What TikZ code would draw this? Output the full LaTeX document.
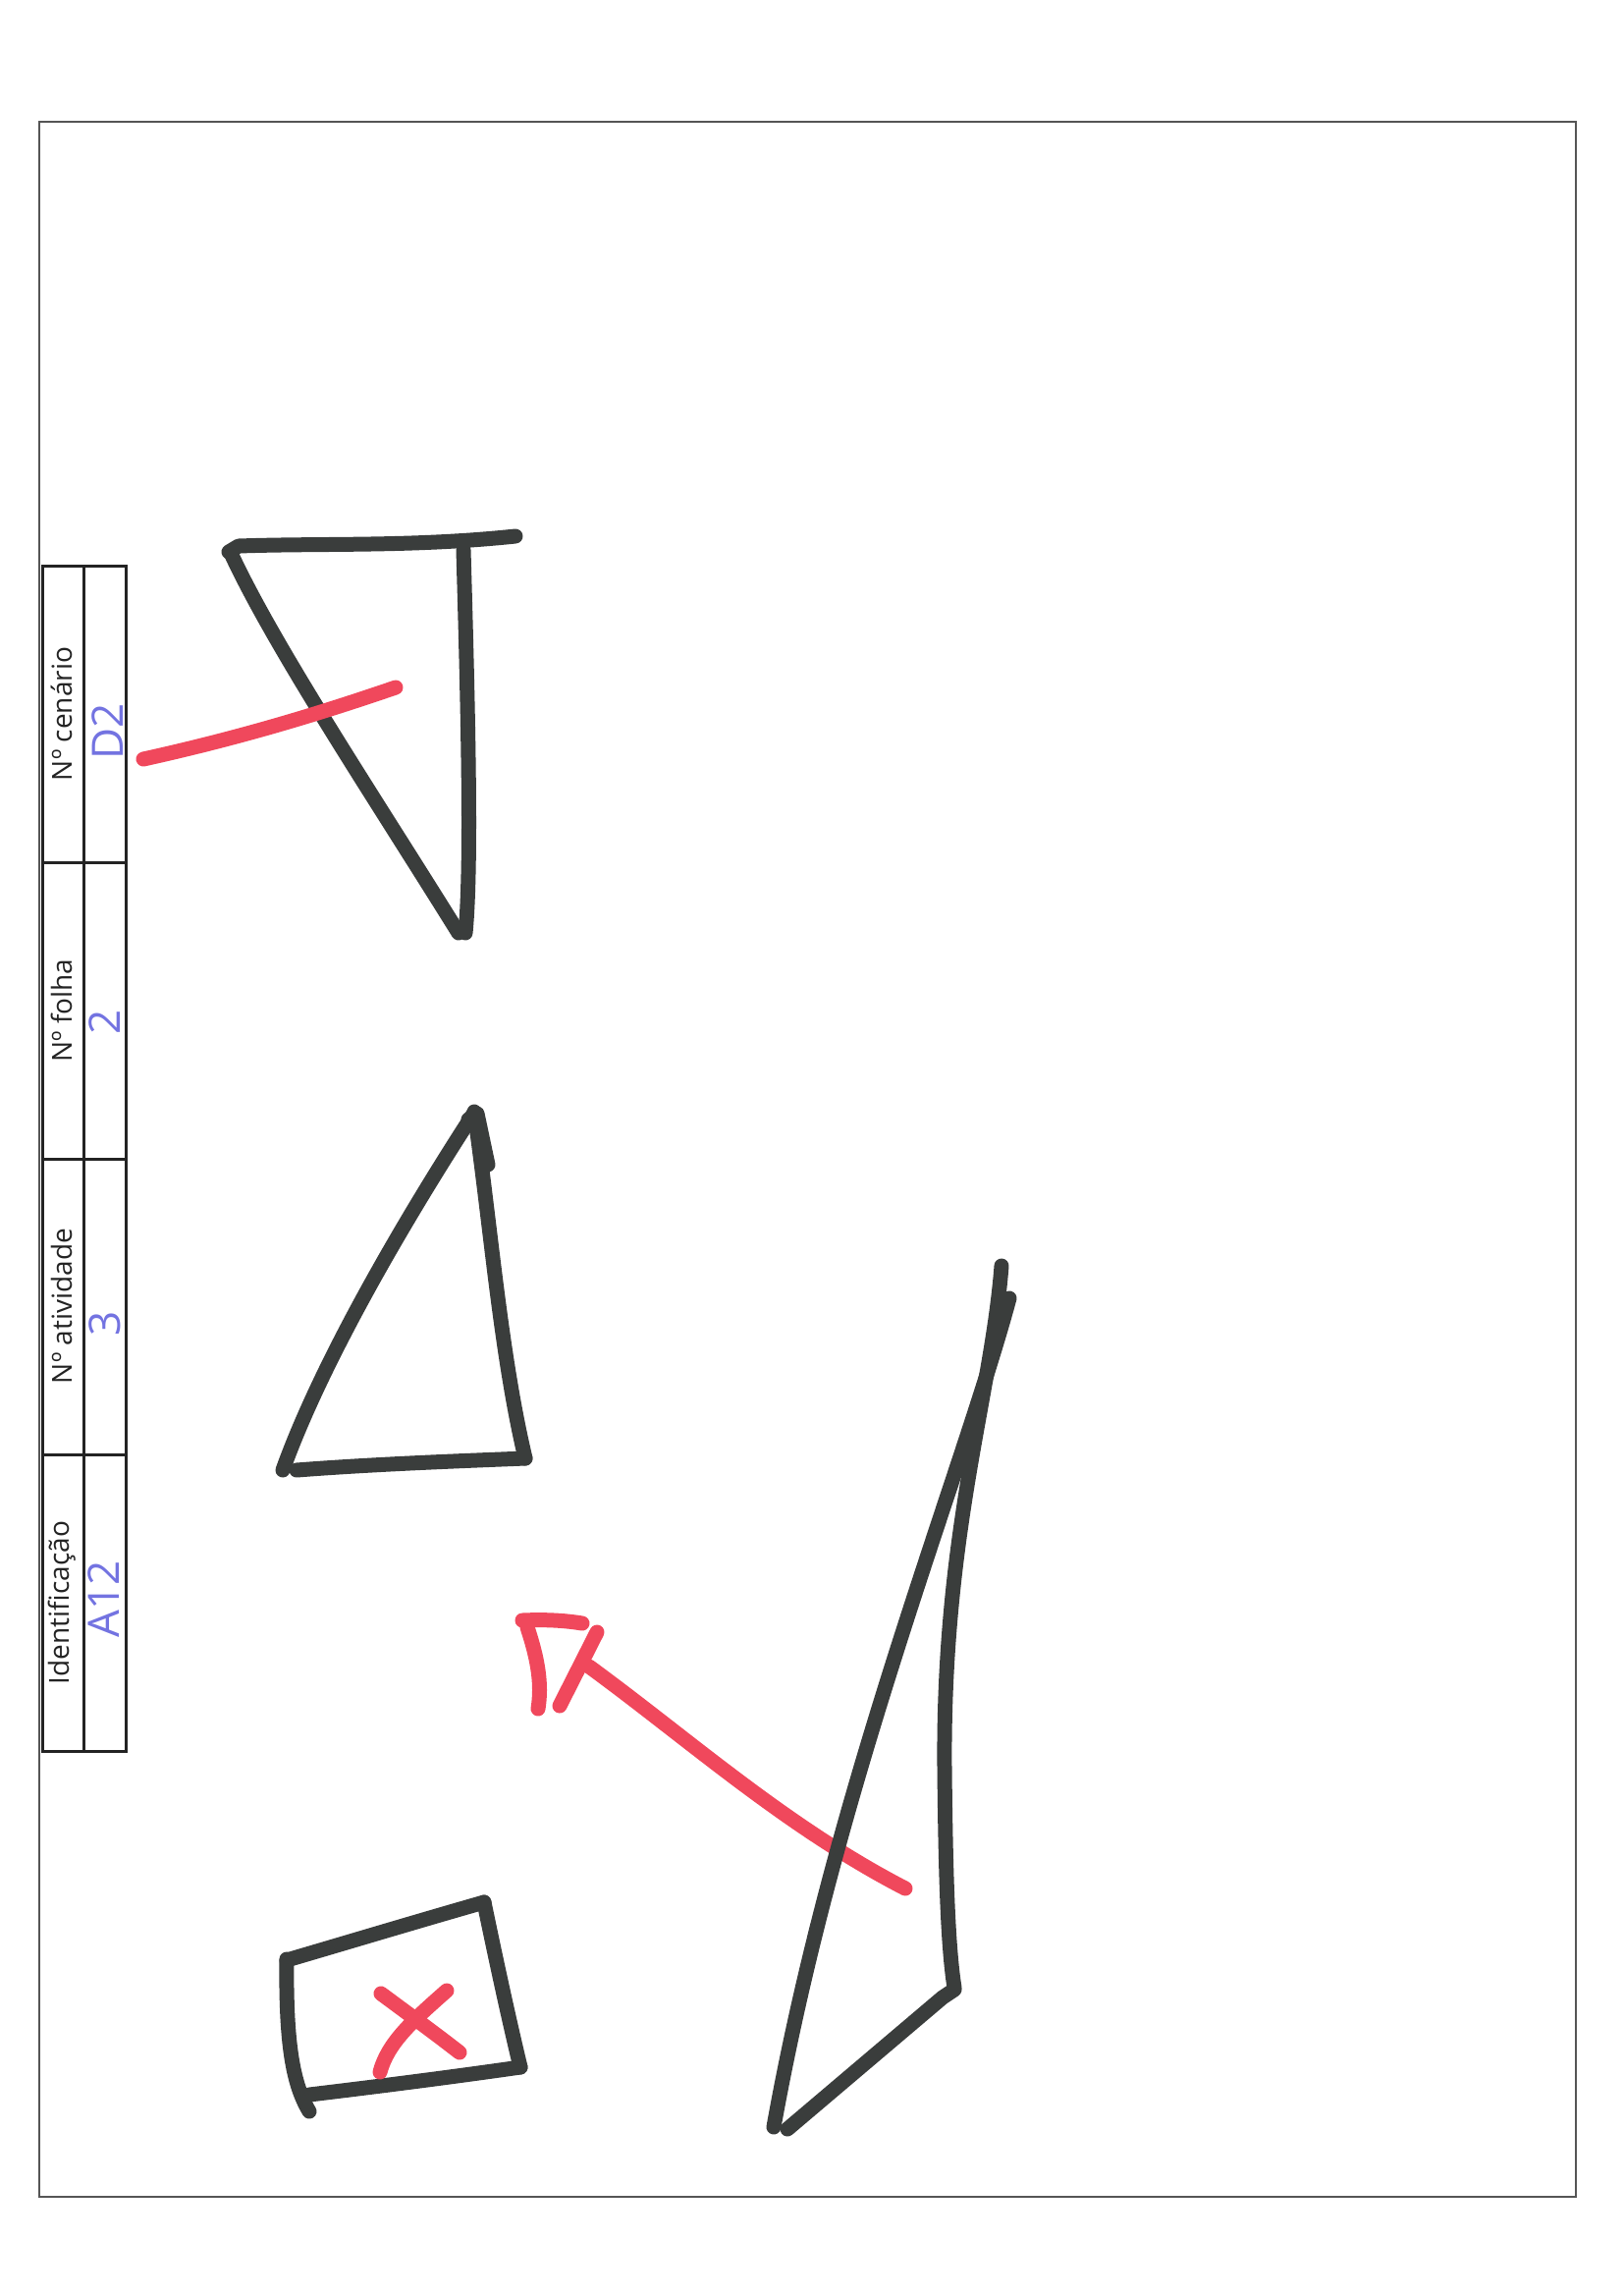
\documentclass[tikz,border=0pt]{standalone}
\usepackage{fontspec}
\setmainfont{Open Sans}
\definecolor{inkblack}{RGB}{58,61,60}
\definecolor{inkred}{RGB}{240,72,92}
\definecolor{framegray}{RGB}{85,85,85}
\definecolor{labelgray}{RGB}{35,35,35}
\definecolor{handblue}{RGB}{115,115,225}
\begin{document}
\begin{tikzpicture}[x=1pt,y=-1pt,
  marker/.style={line width=15pt, line cap=round, line join=round, draw=inkblack},
  redmarker/.style={line width=15pt, line cap=round, line join=round, draw=inkred},
  framestyle/.style={draw=framegray, line width=2.5pt},
  tablestyle/.style={draw=labelgray, line width=3pt},
  label/.style={font=\fontsize{28}{32}\selectfont, text=labelgray, rotate=90, inner sep=0pt},
  hand/.style={font=\fontsize{44}{50}\selectfont, text=handblue, rotate=90, inner sep=0pt}]
\useasboundingbox (0,0) rectangle (1654,2338);
\fill[white] (0,0) rectangle (1654,2338);
% page frame
\draw[framestyle] (40,124) rectangle (1605,2237);
% table
\draw[tablestyle] (43,576) rectangle (128,1783);
\draw[tablestyle] (85,576) -- (85,1783);
\foreach \yy in {878,1180,1481} \draw[tablestyle] (43,\yy) -- (128,\yy);
\node[label] (lid) at (63,1632) {Identificação};
\node[label] (lat) at (63,1330) {Nº atividade};
\node[label] (lfo) at (63,1029) {Nº folha};
\node[label] (lce) at (63,727) {Nº cenário};
\node[hand] (vid) at (106,1628) {A12};
\node[hand] (vat) at (107,1348) {3};
\node[hand] (vfo) at (107,1041) {2};
\node[hand] (vce) at (110,745) {D2};
% triangle 1 (top)
\draw[marker] (233,562) -- (243,556) .. controls (330,553) and (420,557) .. (525,546);
\draw[marker] (235,563) .. controls (280,660) and (380,810) .. (467,950);
\draw[marker] (472,560) .. controls (476,700) and (481,880) .. (474,950);
\draw[redmarker] (146,773) .. controls (250,750) and (330,725) .. (403,700);
% triangle 2 (middle)
\draw[marker] (483,1133) .. controls (420,1230) and (330,1380) .. (288,1497);
\draw[marker] (483,1132) .. controls (500,1250) and (510,1380) .. (535,1485);
\draw[marker] (477,1140) -- (486,1134) -- (497,1186);
\draw[marker] (302,1497) .. controls (380,1491) and (460,1488) .. (535,1485);
% box with X
\draw[marker] (292,1995) .. controls (291,2080) and (298,2122) .. (315,2150);
\draw[marker] (292,1996) .. controls (360,1976) and (430,1955) .. (493,1937);
\draw[marker] (493,1937) .. controls (505,1995) and (518,2055) .. (530,2105);
\draw[marker] (530,2105) .. controls (460,2115) and (390,2124) .. (315,2133);
\draw[redmarker] (388,2030) .. controls (415,2050) and (445,2072) .. (468,2090);
\draw[redmarker] (455,2027) .. controls (420,2058) and (395,2080) .. (387,2110);
% red arrow
\draw[redmarker] (922,1923) .. controls (800,1860) and (700,1770) .. (600,1697);
\draw[redmarker] (532,1650) .. controls (555,1649) and (575,1650) .. (593,1653);
\draw[redmarker] (537,1657) .. controls (548,1690) and (552,1715) .. (548,1740);
\draw[redmarker] (608,1662) -- (570,1737);
% big triangle (right)
\draw[marker] (1020,1289) .. controls (1010,1420) and (960,1560) .. (962,1800) .. controls (963,1900) and (965,1980) .. (972,2024);
\draw[marker] (1028,1322) .. controls (980,1500) and (850,1820) .. (788,2166);
\draw[marker] (972,2026) -- (960,2034) -- (802,2168);
\end{tikzpicture}
\end{document}
